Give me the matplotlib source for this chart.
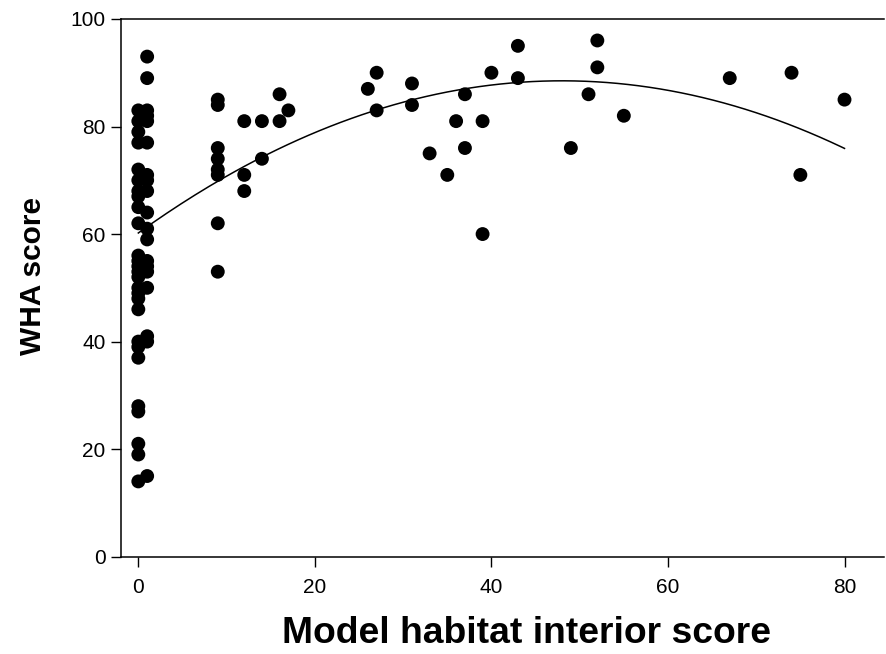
import numpy as np
import matplotlib
matplotlib.use("Agg")
import matplotlib.pyplot as plt

plt.rcParams['font.family'] = ['Liberation Sans', 'DejaVu Sans']

# Data
x0_vals = [83, 81, 79, 77, 72, 70, 68, 67, 65, 62, 56, 55, 54, 53, 52, 50, 49,
           48, 46, 40, 39, 37, 28, 27, 21, 19, 14]
x1_vals = [93, 89, 83, 82, 81, 77, 71, 70, 68, 64, 61, 59, 55, 54, 53, 50, 41,
           40, 15]
other_x = [9, 9, 9, 9, 9, 9, 9, 9,
           12, 12, 12, 14, 14, 16, 16, 17,
           26, 27, 27, 31, 31, 33, 35, 36, 37, 37, 39, 39, 40,
           43, 43, 49, 51, 52, 52, 55, 67, 74, 75, 80]
other_y = [85, 84, 76, 74, 72, 71, 62, 53,
           81, 71, 68, 81, 74, 86, 81, 83,
           87, 90, 83, 88, 84, 75, 71, 81, 86, 76, 81, 60, 90,
           95, 89, 76, 86, 96, 91, 82, 89, 90, 71, 85]

# Quadratic fit line coefficients: c2, c1, c0
fit_coef = [-0.01228, 1.179, 60.2]
fit_range = [0, 80]

xticks = [0, 20, 40, 60, 80]
yticks = [0, 20, 40, 60, 80, 100]

xs = [0] * len(x0_vals) + [1] * len(x1_vals) + other_x
ys = x0_vals + x1_vals + other_y

fig = plt.figure(figsize=(8.86, 6.54), dpi=100)
ax = fig.add_axes([0.1362, 0.1488, 0.8618, 0.8222])

ax.scatter(xs, ys, s=100, color='black', edgecolors='none', zorder=3)

xf = np.linspace(fit_range[0], fit_range[1], 200)
ax.plot(xf, np.polyval(fit_coef, xf), color='black', lw=1.1, zorder=2)

ax.set_xlim(-2, 84.5)
ax.set_ylim(0, 100)
ax.set_xticks(xticks)
ax.set_yticks(yticks)
ax.spines['right'].set_visible(False)
for s in ['left', 'bottom', 'top']:
    ax.spines[s].set_linewidth(1.1)
ax.tick_params(axis='both', direction='out', length=7, width=1.0,
               labelsize=15, colors='black')
ax.tick_params(axis='x', pad=8)
ax.tick_params(axis='y', pad=4)

ax.set_xlabel('Model habitat interior score', fontsize=26.8, fontweight='bold',
              labelpad=14)
ax.set_ylabel('WHA score', fontsize=21.5, fontweight='bold', labelpad=17)
ax.xaxis.label.set_x(0.531)
ax.yaxis.label.set_y(0.522)

fig.savefig('out.png', dpi=100)
